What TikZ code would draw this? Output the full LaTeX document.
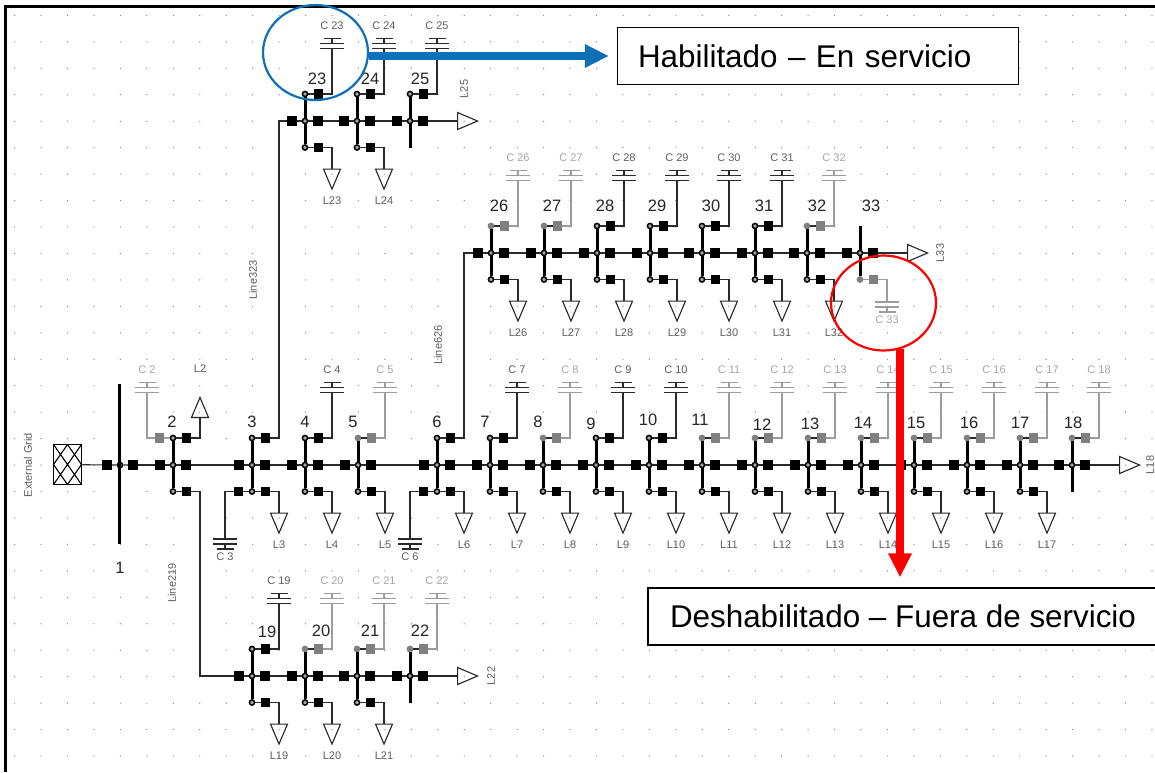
\documentclass[tikz,border=0pt]{standalone}
\usepackage{fontspec}
\setmainfont{Liberation Sans}
\usetikzlibrary{positioning,shapes.geometric,arrows.meta}
\definecolor{offgray}{HTML}{808080}
\definecolor{offwire}{HTML}{9C9C9C}
\definecolor{liveink}{HTML}{5E5E64}
\definecolor{offink}{HTML}{A6A6A6}
\definecolor{wire}{HTML}{2A2A2A}
\definecolor{dotgray}{HTML}{8E8E8E}
\definecolor{callblue}{HTML}{0F6FB7}

\begin{document}
\begin{tikzpicture}
[x=1pt,y=-1pt,on grid,
sq/.style={rectangle,fill,inner sep=0,minimum size=9.5pt},
live/.style={color=black},
dead/.style={color=offgray},
livewire/.style={wire,line width=1.1pt},
deadwire/.style={offwire,line width=1.1pt},
livelab/.style={text=liveink},
deadlab/.style={text=offink},
lab/.style={font=\fontsize{11}{12}\selectfont,inner sep=0,text=liveink},
num/.style={font=\fontsize{16.5}{18}\selectfont,inner sep=0,text=black!85},
jn/.style={circle,draw=black,fill=black!35,inner sep=0,minimum size=5.2pt,line width=1.5pt},
livejn/.style={jn},
deadjn/.style={jn,draw=offgray,fill=offgray},
bus/.style={black,line width=3pt},
tri/.style={draw=black!85,isosceles triangle,isosceles triangle stretches,inner sep=0,
  minimum width=17pt,minimum height=20pt,line width=1.1pt,anchor=lower side},
loaddn/.style={tri,shape border rotate=270},
loadup/.style={tri,shape border rotate=90},
loadrt/.style={tri,shape border rotate=0},
capbox/.style={rectangle,inner sep=0,minimum width=24pt,minimum height=11pt},
capup/.style={capbox,path picture={\draw[#1]
  ([shift={(-12,5)}]path picture bounding box.center) -- ++(24,0)
  ([shift={(-12,0)}]path picture bounding box.center) -- ++(24,0)
  ([shift={(-8.5,-5)}]path picture bounding box.center) -- ++(17,0)
  ([shift={(0,-5)}]path picture bounding box.center) -- ++(0,5);}},
capdn/.style={capbox,path picture={\draw[#1]
  ([shift={(-12,-5)}]path picture bounding box.center) -- ++(24,0)
  ([shift={(-12,0)}]path picture bounding box.center) -- ++(24,0)
  ([shift={(-8.5,5)}]path picture bounding box.center) -- ++(17,0)
  ([shift={(0,5)}]path picture bounding box.center) -- ++(0,-5);}},
gridbox/.style={draw,rectangle,line width=1.5pt,inner sep=0,minimum width=28pt,minimum height=40pt,
  path picture={\foreach \k in {-14,0,14} {\draw[line width=1.1pt]
    ([shift={(\k-14,-20)}]path picture bounding box.center) -- ++(28,40)
    ([shift={(\k+14,-20)}]path picture bounding box.center) -- ++(-28,40);}}},
txtbox/.style={draw=black,line width=1.2pt,fill=white,inner sep=0,
  font=\fontsize{31.4}{34}\selectfont,minimum height=57pt},
callout/.style={ellipse,draw,line width=2.2pt,inner sep=0,minimum width=105pt,minimum height=95pt}]

\path[use as bounding box,fill=white] (0,0) rectangle (1155,772);
% grid
\foreach \i in {0,...,43} \foreach \j in {0,...,28}
  \fill[dotgray] (14.6+26.45*\i,15.4+26.45*\j) circle (0.7);
\draw[black,line width=3pt] (5,772) -- (5,6) -- (1155,6);

% bays with capacitor above and load below
\foreach \n/\x/\y/\st/\nx/\ny in {4/305/465/live/305/422,5/358/465/dead/353/422,7/490/465/live/485/422,
  8/543/465/dead/538/422,9/596/465/live/591/424,10/649/465/live/648/420,11/702/465/dead/700/420,
  12/755/465/dead/762/425,13/808/465/dead/810/424,14/861/465/dead/863/423,15/914/465/dead/916/423,
  16/967/465/dead/969/423,17/1020/465/dead/1020/423,
  23/305/121/live/317/79,24/357/121/live/370/79,
  26/491/253/dead/499/206,27/544/253/dead/552/206,28/597/253/live/605/206,29/650/253/live/657/206,
  30/702/253/live/711/206,31/755/253/live/764/206,32/807/253/dead/817/206,
  19/252/676/live/267/632,20/305/676/dead/321/631,21/357/676/dead/370/631}{
\node[jn] (m\n) at (\x,\y) {};
\node[\st jn,above=27pt of m\n] (t\n) {};
\node[jn,below=26.5pt of m\n] (b\n) {};
\node[sq,black,left=13pt of m\n] (ml\n) {};
\node[sq,black,right=13pt of m\n] (mr\n) {};
\node[sq,\st,right=13.5pt of t\n] (tr\n) {};
\node[sq,black,right=13.5pt of b\n] (br\n) {};
\node[capup=\st wire,above right=50.5pt and 27pt of t\n,
  label={[lab,\st lab,label distance=8pt]above:C \n}] (c\n) {};
\node[loaddn,label={[lab,label distance=6pt]below:L\n}] (l\n) at ([shift={(27,21)}]b\n) {};
\node[num] (n\n) at (\nx,\ny) {\n};
\draw[bus] (t\n) -- (m\n) (m\n) -- (b\n);
\draw[livewire] (ml\n) -- (m\n) -- (mr\n) (t\n) -- (tr\n) (b\n) -- (br\n);
\draw[\st wire] (tr\n) -| (c\n.south);
\draw[livewire] (br\n) -| (l\n.lower side);
}

% end bays, no lower junction
\foreach \n/\x/\y/\st/\nx/\ny in {18/1072/465/dead/1073/423,22/410/676/dead/420/631,25/410/121/live/420/79}{
\node[jn] (m\n) at (\x,\y) {};
\node[\st jn,above=27pt of m\n] (t\n) {};
\coordinate[below=26.5pt of m\n] (b\n);
\node[sq,black,left=13pt of m\n] (ml\n) {};
\node[sq,black,right=13pt of m\n] (mr\n) {};
\node[sq,\st,right=13.5pt of t\n] (tr\n) {};
\node[capup=\st wire,above right=50.5pt and 27pt of t\n,
  label={[lab,\st lab,label distance=8pt]above:C \n}] (c\n) {};
\node[loadrt] (l\n) at ([xshift=47pt]m\n) {};
\node[num] (n\n) at (\nx,\ny) {\n};
\draw[bus] (t\n) -- (m\n) (m\n) -- (b\n);
\draw[livewire] (ml\n) -- (m\n) -- (mr\n) (t\n) -- (tr\n) (mr\n) -- (l\n.lower side);
\draw[\st wire] (tr\n) -| (c\n.south);
}

% feeder bays with capacitor below
\foreach \n/\x in {3/252,6/437}{
\node[jn] (m\n) at (\x,465) {};
\node[jn,above=27pt of m\n] (t\n) {};
\node[jn,below=26.5pt of m\n] (b\n) {};
\node[sq,black,left=13pt of m\n] (ml\n) {};
\node[sq,black,right=13pt of m\n] (mr\n) {};
\node[sq,black,right=13.5pt of t\n] (tr\n) {};
\node[sq,black,right=13.5pt of b\n] (br\n) {};
\node[sq,black,left=13.5pt of b\n] (bl\n) {};
\node[capdn=livewire,below left=52.5pt and 27pt of b\n,
  label={[lab,label distance=2.5pt]below:C \n}] (c\n) {};
\node[loaddn,label={[lab,label distance=6pt]below:L\n}] (l\n) at ([shift={(27,21)}]b\n) {};
\node[num,above=43pt of m\n] (n\n) {\n};
\draw[bus] (t\n) -- (m\n) (m\n) -- (b\n);
\draw[livewire] (ml\n) -- (m\n) -- (mr\n) (t\n) -- (tr\n) (b\n) -- (br\n) (bl\n) -- (b\n);
\draw[livewire] (bl\n) -| (c\n.north);
\draw[livewire] (br\n) -| (l\n.lower side);
}

% bus 1
\node[jn] (m1) at (120,465) {};
\coordinate (t1) at (119,384);
\coordinate (b1) at (119,544);
\node[sq,black,left=13pt of m1] (ml1) {};
\node[sq,black,right=13pt of m1] (mr1) {};
\node[num] (n1) at (120,568) {1};
\draw[bus] (t1) -- (b1);
\node[gridbox] (grid) at (67.5,464.5) {};
\draw[livewire] (grid) -- (ml1) -- (m1) -- (mr1);
\node[lab,rotate=90] (gridlab) at (28,465) {External Grid};

% bus 2
\node[jn] (m2) at (173,465) {};
\node[jn,above=27pt of m2] (t2) {};
\node[jn,below=26.5pt of m2] (b2) {};
\node[sq,black,left=13pt of m2] (ml2) {};
\node[sq,black,right=13pt of m2] (mr2) {};
\node[sq,dead,left=13.5pt of t2] (tl2) {};
\node[sq,black,right=13.5pt of t2] (tr2) {};
\node[sq,black,right=13.5pt of b2] (br2) {};
\node[capup=deadwire,above left=50.5pt and 26pt of t2,
  label={[lab,deadlab,label distance=8pt]above:C 2}] (c2) {};
\node[loadup,label={[lab,label distance=23pt]above:L2}] (l2) at ([shift={(27,-20)}]t2) {};
\node[num] (n2) at (172,422) {2};
\draw[bus] (t2) -- (m2) (m2) -- (b2);
\draw[livewire] (ml2) -- (m2) -- (mr2) (t2) -- (tr2) (b2) -- (br2);
\draw[deadwire] (t2) -- (tl2) -| (c2.south);
\draw[livewire] (tr2) -| (l2.lower side);

% bus 33
\node[jn] (m33) at (860,253) {};
\coordinate[above=27pt of m33] (t33);
\node[deadjn,below=26.5pt of m33] (b33) {};
\node[sq,black,left=13pt of m33] (ml33) {};
\node[sq,black,right=13pt of m33] (mr33) {};
\node[sq,dead,right=13.5pt of b33] (br33) {};
\node[capdn=deadwire,below right=27.5pt and 27pt of b33,
  label={[lab,deadlab,label distance=2.5pt]below:C 33}] (c33) {};
\node[loadrt] (l33) at ([xshift=47pt]m33) {};
\node[num] (n33) at (871,206) {33};
\draw[bus] (t33) -- (m33) (m33) -- (b33);
\draw[livewire] (ml33) -- (m33) -- (mr33) (mr33) -- (l33.lower side);
\draw[deadwire] (b33) -- (br33) -| (c33.north);

% ties
\foreach \a/\b in {1/2,2/3,3/4,4/5,5/6,6/7,7/8,8/9,9/10,10/11,11/12,12/13,13/14,14/15,15/16,16/17,17/18,
  23/24,24/25,26/27,27/28,28/29,29/30,30/31,31/32,32/33,19/20,20/21,21/22}
  \draw[livewire] (mr\a) -- (ml\b);
\foreach \a/\b/\x/\y in {tr3/23/279/121,tr6/26/464/253,br2/19/200/676}{
  \coordinate (f\b) at (\x,\y);
  \draw[livewire] (\a) -| (f\b) -- (ml\b);
}

% loose labels
\node[lab,rotate=90] (line323) at (253,280) {Line323};
\node[lab,rotate=90] (line626) at (438,345) {Line626};
\node[lab,rotate=90] (line219) at (172,583) {Line219};
\node[lab,rotate=90] (ll25) at (464,89) {L25};
\node[lab,rotate=90] (ll22) at (491,676) {L22};
\node[lab,rotate=90] (ll33) at (940,253) {L33};
\node[lab,rotate=90] (ll18) at (1150,465) {L18};

% callouts
\node[txtbox,minimum width=401pt,text width=360pt,align=left] (hab) at (818,56) {Habilitado – En servicio};
\node[txtbox,minimum width=510pt,align=center] (des) at (903,616.5) {Deshabilitado – Fuera de servicio};
\node[callout,draw=callblue] (cblue) at (315.5,52.5) {};
\node[callout,draw=red] (cred) at (883.5,303) {};
\coordinate (redtop) at (900,349);
\draw[callblue,line width=7.5pt,-{Triangle[length=24pt,width=22pt]},shorten >=8pt] (cblue.east |- hab.west) -- (hab.west);
\draw[red,line width=7.5pt,-{Triangle[length=24pt,width=22pt]},shorten >=10pt] (redtop) -- (redtop |- des.north);
\end{tikzpicture}
\end{document}
